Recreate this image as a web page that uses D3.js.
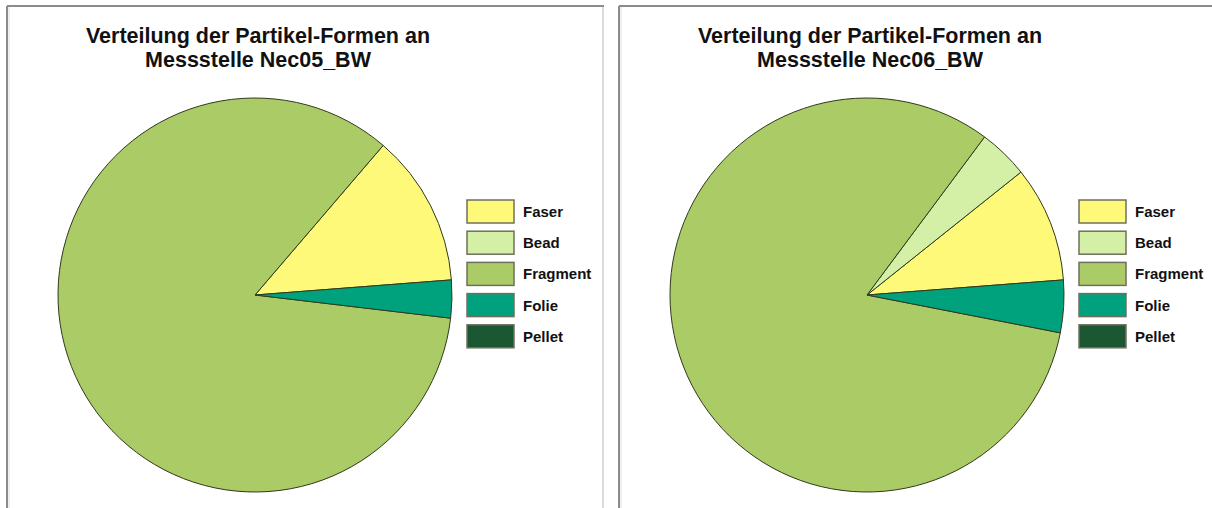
<!DOCTYPE html>
<html>
<head>
<meta charset="utf-8">
<script src="https://cdn.jsdelivr.net/npm/d3@7"></script>
<style>
  html, body { margin: 0; padding: 0; background: #fff; }
  svg { display: block; }
</style>
</head>
<body>
<svg id="chart" width="1212" height="508"></svg>
<script>
// ---- data ----
const categories = ["Faser", "Bead", "Fragment", "Folie", "Pellet"];
const titlesLine1 = ["Verteilung der Partikel-Formen an", "Verteilung der Partikel-Formen an"];
const titlesLine2 = ["Messstelle Nec05_BW", "Messstelle Nec06_BW"];
const valuesNec05 = [12.5, 0, 84.4, 3.1, 0];
const valuesNec06 = [9.5, 4.1, 82.1, 4.3, 0];
const colors = ["#FFF97A", "#D3F0A6", "#AACB66", "#00A27E", "#1C5733"];

const panels = [
  { values: valuesNec05, t1: titlesLine1[0], t2: titlesLine2[0], x0: 7 },
  { values: valuesNec06, t1: titlesLine1[1], t2: titlesLine2[1], x0: 619 }
];

const svg = d3.select("#chart");
const color = d3.scaleOrdinal().domain(categories).range(colors);

const startDeg = 85.6;
const pie = d3.pie()
  .sort(null)
  .value(d => d.value)
  .startAngle(startDeg * Math.PI / 180)
  .endAngle(startDeg * Math.PI / 180 - 2 * Math.PI);

const R = 197;
const arc = d3.arc().innerRadius(0).outerRadius(R);

const legendY = d3.scaleBand().domain(categories).range([200, 356]).paddingInner(0);

panels.forEach((p, i) => {
  const g = svg.append("g").attr("transform", `translate(${p.x0},0)`);

  // panel frame
  if (i === 0) {
    g.append("line").attr("x1", 596).attr("x2", 596).attr("y1", 6).attr("y2", 508)
      .attr("stroke", "#dcdcdc").attr("stroke-width", 2);
  }
  g.append("line").attr("x1", 0).attr("x2", i === 0 ? 597 : 600).attr("y1", 6).attr("y2", 6)
    .attr("stroke", "#8c8c8c").attr("stroke-width", 2);
  g.append("line").attr("x1", 0).attr("x2", 0).attr("y1", 6).attr("y2", 508)
    .attr("stroke", "#8c8c8c").attr("stroke-width", 2);
  g.append("line").attr("x1", 2).attr("x2", 2).attr("y1", 7).attr("y2", 508)
    .attr("stroke", "#dedede").attr("stroke-width", 1);

  const cx = 248, cy = 295;

  // titles
  const title = g.append("text")
    .attr("x", cx + 3).attr("text-anchor", "middle")
    .attr("font-family", "Liberation Sans, Arial, sans-serif")
    .attr("font-weight", "bold").attr("font-size", 21.5).attr("fill", "#111");
  title.append("tspan").attr("x", cx + 3).attr("y", 43).text(p.t1);
  title.append("tspan").attr("x", cx + 3).attr("y", 67).text(p.t2);

  // pie
  const data = categories.map((c, k) => ({ cat: c, value: p.values[k] }));
  const pg = g.append("g").attr("transform", `translate(${cx},${cy})`);
  pg.selectAll("path")
    .data(pie(data).filter(d => d.data.value > 0))
    .join("path")
    .attr("d", arc)
    .attr("fill", d => color(d.data.cat))
    .attr("stroke", "#2f3a1c")
    .attr("stroke-width", 1)
    .attr("stroke-linejoin", "round");

  // legend
  const lg = g.append("g").attr("transform", "translate(460,0)");
  const items = lg.selectAll("g").data(categories).join("g")
    .attr("transform", d => `translate(0,${legendY(d)})`);
  items.append("rect")
    .attr("width", 47).attr("height", 23)
    .attr("fill", d => color(d))
    .attr("stroke", "#6f6f5f").attr("stroke-width", 1.5);
  items.append("text")
    .attr("x", 56).attr("y", 17)
    .attr("font-family", "Liberation Sans, Arial, sans-serif")
    .attr("font-weight", "bold").attr("font-size", 15).attr("fill", "#111")
    .text(d => d);
});
</script>
</body>
</html>
